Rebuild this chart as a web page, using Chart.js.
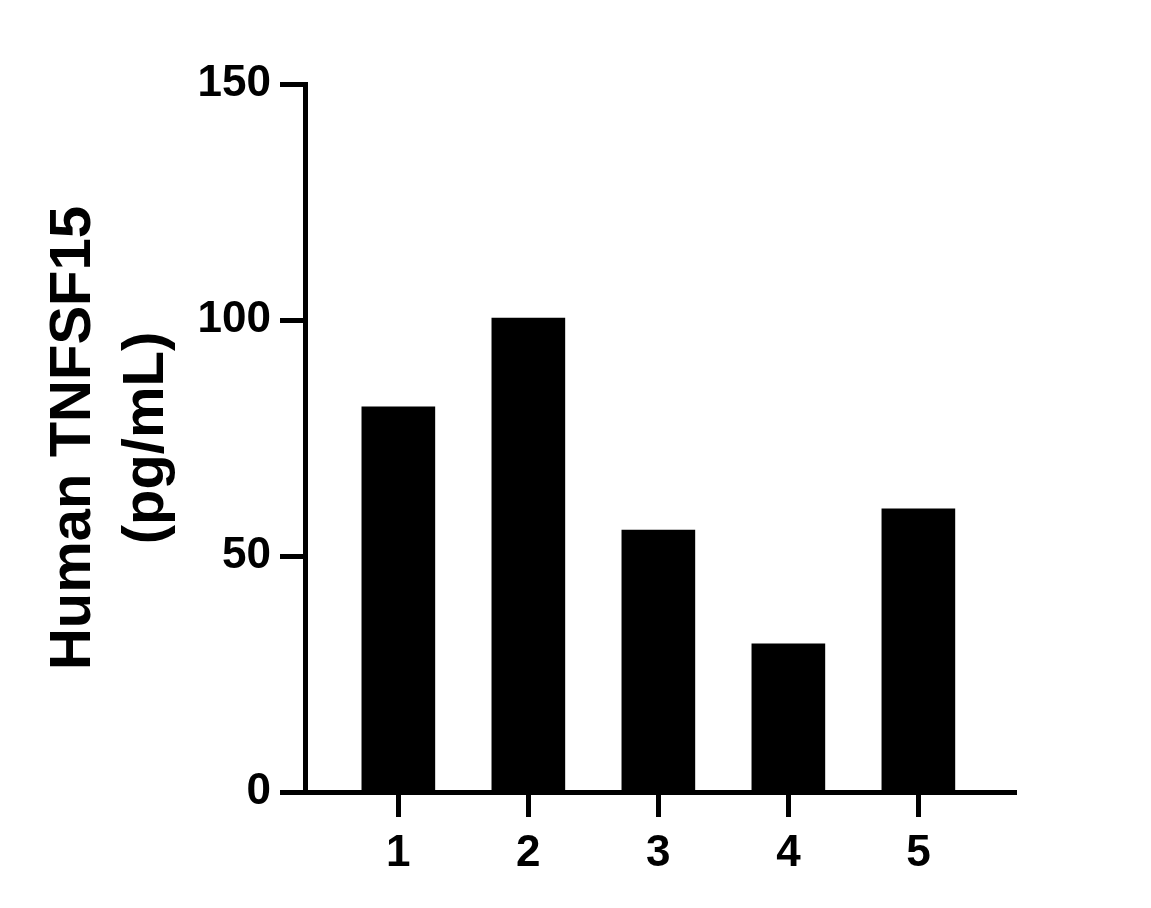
<!DOCTYPE html>
<html>
<head>
<meta charset="utf-8">
<title>Human TNFSF15</title>
<script src="https://cdn.jsdelivr.net/npm/chart.js@4.4.1/dist/chart.umd.min.js"></script>
<style>
  html, body { margin: 0; padding: 0; background: #fff; }
  canvas { display: block; }
</style>
</head>
<body>
<canvas id="chart" width="1151" height="908"></canvas>
<script>
// Sample numbers on the x axis and measured concentration for each one
const samples = [1, 2, 3, 4, 5];
const tnfsf15 = [81.6, 100.4, 55.5, 31.4, 60.0];
const yTicks = [0, 50, 100, 150];

const yTitle = ['Human TNFSF15', '(pg/mL)'];

Chart.defaults.font.family = '"Liberation Sans", Arial, Helvetica, sans-serif';
Chart.defaults.color = '#000';

const ctx = document.getElementById('chart').getContext('2d');
new Chart(ctx, {
    type: 'bar',
    data: {
        datasets: [{
            data: samples.map((s, i) => ({ x: s, y: tnfsf15[i] })),
            backgroundColor: '#000',
            borderWidth: 0,
            barThickness: 73
        }]
    },
    options: {
        responsive: false,
        animation: false,
        devicePixelRatio: 1,
        layout: { padding: { left: 0, top: 84, right: 135, bottom: 0 } },
        plugins: {
            legend: { display: false },
            tooltip: { enabled: false }
        },
        scales: {
            x: {
                type: 'linear',
                offset: false,
                min: 0.282,
                max: 5.751,
                afterBuildTicks: (scale) => {
                    scale.ticks = samples.map(v => ({ value: v }));
                },
                afterFit: (scale) => { scale.height = 116; },
                grid: {
                    offset: false,
                    drawOnChartArea: false,
                    color: '#000',
                    tickColor: '#000',
                    tickLength: 25,
                    tickWidth: 5
                },
                border: { display: true, color: '#000', width: 5 },
                ticks: {
                    padding: 10,
                    font: { size: 44, weight: 'bold' },
                    maxRotation: 0
                }
            },
            y: {
                min: 0,
                max: 150,
                afterBuildTicks: (scale) => {
                    scale.ticks = yTicks.map(v => ({ value: v }));
                },
                afterFit: (scale) => { scale.width = 305; },
                grid: {
                    drawOnChartArea: false,
                    color: '#000',
                    tickColor: '#000',
                    tickLength: 25,
                    tickWidth: 5
                },
                border: { display: true, color: '#000', width: 5 },
                ticks: {
                    padding: 9,
                    font: { size: 44, weight: 'bold' }
                },
                title: {
                    display: true,
                    text: yTitle,
                    font: { size: 58, weight: 'bold', lineHeight: 1.25 },
                    padding: { top: 38, bottom: 0 }
                }
            }
        }
    }
});
</script>
</body>
</html>
